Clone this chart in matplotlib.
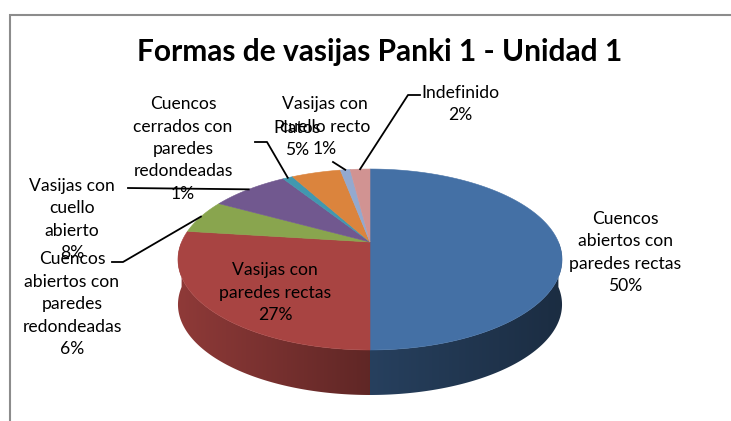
import numpy as np
import matplotlib
matplotlib.use('Agg')
import matplotlib.pyplot as plt
from matplotlib.colors import to_rgb

# slices, clockwise from 12 o'clock
categories = ['Cuencos\nabiertos con\nparedes rectas',
              'Vasijas con\nparedes rectas',
              'Cuencos\nabiertos con\nparedes\nredondeadas',
              'Vasijas con\ncuello\nabierto',
              'Cuencos\ncerrados con\nparedes\nredondeadas',
              'Platos',
              'Vasijas con\ncuello recto',
              'Indefinido']
percent = [50, 27, 6, 8, 1, 5, 1, 2]
colors = ['#4470A5', '#A84442', '#89A54E', '#71588F',
          '#4198AF', '#DB843D', '#93A9CF', '#D19392']
title = 'Formas de vasijas Panki 1 - Unidad 1'

plt.rcParams['font.family'] = ['Lato', 'DejaVu Sans']

fig = plt.figure(figsize=(7.31, 4.21), dpi=100)
ax = fig.add_axes([0, 0, 1, 1])
ax.axis('off')

# chart frame (only top and left edges are visible in the crop)
ax.plot([9, 731], [14.5, 14.5], color='#8c8c8c', lw=1.5, solid_capstyle='butt')
ax.plot([9.5, 9.5], [14, 421], color='#8c8c8c', lw=1.5, solid_capstyle='butt')

# perspective view of the pie: circle -> ellipse via homography
cx, cy = 370.0, 242.0
q = 0.1934
beta = -40.3
gamma = 188.4
depth = 45.0


def rim(theta_deg):
    t = np.radians(theta_deg)
    u, v = np.sin(t), np.cos(t)
    d = 1 + q * v
    return cx + gamma * u / d, (cy + beta * v) / d


def shade(x):
    return np.interp(x, [177, 370, 562], [0.85, 0.57, 0.40])


bounds = np.concatenate([[0], np.cumsum(percent)]) / np.sum(percent) * 360

# side walls (front half only), shaded left to right
gx = np.linspace(170, 570, 400)
for i in range(len(percent)):
    a0, a1 = max(bounds[i], 90), min(bounds[i + 1], 270)
    if a1 <= a0:
        continue
    ts = np.linspace(a0, a1, max(int((a1 - a0) / 0.5), 2) + 1)
    xs, ys = rim(ts)
    pts = list(zip(xs, ys)) + list(zip(xs[::-1], ys[::-1] + depth))
    wall = plt.Polygon(pts, closed=True, facecolor='none', edgecolor='none')
    ax.add_patch(wall)
    base = np.array(to_rgb(colors[i]))
    img = (base[None, None, :] * shade(gx)[None, :, None]).clip(0, 1)
    im = ax.imshow(img, extent=(170, 570, 400, 160), aspect='auto',
                   interpolation='bilinear', zorder=1)
    im.set_clip_path(wall)

# top face
for i in range(len(percent)):
    ts = np.linspace(bounds[i], bounds[i + 1], max(int((bounds[i + 1] - bounds[i]) / 0.5), 2) + 1)
    xs, ys = rim(ts)
    pts = [(cx, cy)] + list(zip(xs, ys))
    ax.add_patch(plt.Polygon(pts, closed=True, facecolor=colors[i],
                             edgecolor=colors[i], lw=0.4, zorder=2))

# data labels
label_pos = [(625, 252.5), (275, 293), (72, 304.5), (72, 219.5),
             (183, 149), (297, 139), (325, 126.5), (460, 104)]
# leader line elbows (None = no leader)
elbows = [None, None, [(123, 262), (112, 262)], [(128, 188)],
          [(267, 142), (255, 142)], None, [(333, 162)], [(408, 95), (420, 95)]]

for i, name in enumerate(categories):
    lx, ly = label_pos[i]
    ax.text(lx, ly, f'{name}\n{percent[i]}%', ha='center', va='center',
            multialignment='center', fontsize=12.6, linespacing=1.5,
            color='black', zorder=4)
    if elbows[i] is not None:
        mid = (bounds[i] + bounds[i + 1]) / 2
        px, py = rim(mid)
        pts = [(px, py)] + elbows[i]
        ax.plot([p[0] for p in pts], [p[1] for p in pts], color='black',
                lw=1.3, zorder=3)

ax.text(380, 52, title, ha='center', va='center', fontsize=21.5,
        fontweight='bold', color='black')

ax.set_xlim(0, 731)
ax.set_ylim(421, 0)

fig.savefig('out.png', dpi=100)
